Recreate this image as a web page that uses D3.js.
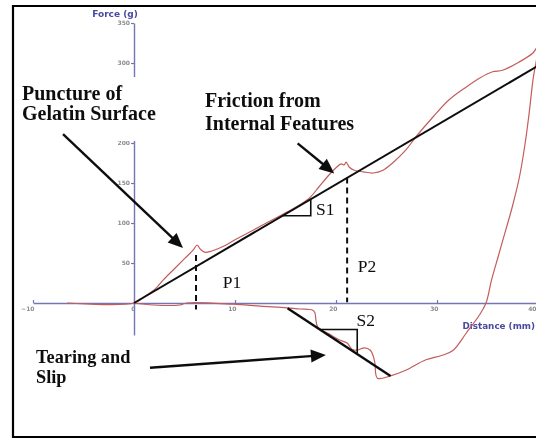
<!DOCTYPE html>
<html>
<head>
<meta charset="utf-8">
<script src="https://cdn.jsdelivr.net/npm/d3@7"></script>
<style>
  html, body { margin: 0; padding: 0; background: #fff; }
  svg { display: block; }
</style>
</head>
<body>
<svg id="chart" width="536" height="439"></svg>
<script>
// Needle insertion into gelatin: probe force (g) against distance (mm),
// loading stroke followed by the retraction stroke.
const distance = [-6.6, 0, 1.1, 2.1, 2.9, 4.1, 5.05, 5.85, 6.25, 6.55, 7.0, 7.7, 8.7, 10.0, 11.5, 13.1,
  14.75, 16.05, 17.35, 18.3, 19.3, 20.0, 20.5, 20.8, 21.0, 21.3, 21.8, 22.7, 23.7, 24.65, 25.6,
  26.9, 27.9, 29.6, 31.2, 32.9, 34.2, 35.5, 36.5, 38.1, 39.5, 40.0,
  39.5, 39.1, 38.7, 38.2, 37.5, 36.8, 36.1, 35.4, 34.85, 34.2, 32.9, 31.6, 30.6, 28.9, 26.9,
  25.4, 24.1, 23.85, 23.7, 23.4, 22.8, 22.1, 21.6, 21.1, 20.3, 19.5, 18.2, 17.9, 17.7, 16.4,
  15.1, 12.5, 9.8, 5.2, 4.55, 1.9, 0];
const force = [0, 0, 8.5, 17.5, 29, 44, 56, 66, 72.5, 67.5, 63.5, 65, 70, 79, 89, 100,
  111, 120, 131, 145, 160, 169, 174, 172.5, 176, 170, 166, 164, 162.5, 166, 175,
  191, 207.5, 232.5, 254, 270, 281, 289, 291, 301, 312.5, 321,
  279, 235, 197.5, 160, 122.5, 91, 60, 29, 0, -15, -37.5, -59, -65, -71, -84,
  -91, -94, -75, -67, -59, -56, -59, -58, -50, -46, -40, -30, -12, -9, -7.5,
  -6, -4, -1.5, 0, -2.5, -2.5, 0];

const xTicks = [-10, 0, 10, 20, 30, 40];
const yTicks = [50, 100, 150, 200, 300, 350];

// Fitted slope of the loading stroke (S1) and of the tearing stroke (S2)
const loadFitD = [0, 40.2];
const loadFitF = [0, 298];
const tearFitD = [15.2, 25.4];
const tearFitF = [-6.6, -91.3];

// Peak positions P1, P2 (distance, force span of the dashed marker)
const peakD = [6.14, 21.1];
const peakTop = [60, 157];
const peakBottom = [-8, 1];

// Slope triangles (distance span along each fitted line)
const s1Span = [14.7, 17.5];
const s2Span = [18.4, 22.1];

const W = 536, H = 439;
const svg = d3.select("#chart");

// slight softening of all ink
svg.append("defs").append("filter").attr("id", "soft")
  .append("feGaussianBlur").attr("stdDeviation", 0.3);
const root = svg.append("g").attr("filter", "url(#soft)");

const x = d3.scaleLinear().domain([-10, 39.8]).range([33, 536]);
const y = d3.scaleLinear().domain([-40, 350]).range([335, 23]);

const axisColor = "#7474b4";
const tickText = "#8c8c8c";

// outer frame
const frame = root.append("g").attr("stroke", "#000").attr("stroke-width", 2.2);
frame.append("line").attr("x1", 13).attr("x2", W).attr("y1", 6).attr("y2", 6);
frame.append("line").attr("x1", 13).attr("x2", 13).attr("y1", 5).attr("y2", 438);
frame.append("line").attr("x1", 12).attr("x2", W).attr("y1", 437).attr("y2", 437);

// x axis
const gx = root.append("g").attr("transform", `translate(0,${y(0)})`)
  .call(d3.axisBottom(x).tickValues(xTicks).tickSizeInner(-3).tickSizeOuter(0).tickPadding(4)
    .tickFormat(d3.format("d")));
gx.select(".domain").attr("stroke", axisColor).attr("stroke-width", 1.4);
gx.selectAll(".tick line").attr("stroke", axisColor).attr("stroke-width", 1.2);
gx.selectAll(".tick text").attr("fill", tickText).attr("font-family", "DejaVu Sans")
  .attr("font-weight", "bold").attr("font-size", 6).attr("text-anchor", "end")
  .attr("dx", d => d === 40 ? -2 : 1);

// y axis
const gy = root.append("g").attr("transform", `translate(${x(0)},0)`)
  .call(d3.axisLeft(y).tickValues(yTicks).tickSizeInner(3).tickSizeOuter(0).tickPadding(1)
    .tickFormat(d3.format("d")));
gy.select(".domain").attr("stroke", axisColor).attr("stroke-width", 1.4);
gy.selectAll(".tick line").attr("stroke", axisColor).attr("stroke-width", 1.2);
gy.selectAll(".tick text").attr("fill", tickText).attr("font-family", "DejaVu Sans")
  .attr("font-weight", "bold").attr("font-size", 6);

// axis titles
root.append("text").attr("x", x(0) - 19).attr("y", 17).attr("text-anchor", "middle")
  .attr("font-family", "DejaVu Sans").attr("font-weight", "bold").attr("font-size", 9)
  .attr("fill", "#4a4aa0").text("Force (g)");
root.append("text").attr("x", W - 1).attr("y", 329).attr("text-anchor", "end")
  .attr("font-family", "DejaVu Sans").attr("font-weight", "bold").attr("font-size", 8.8)
  .attr("fill", "#4a4aa0").text("Distance (mm)");

// force trace
const pts = distance.map((d, i) => [d, force[i]]);
root.append("path").datum(pts)
  .attr("fill", "none").attr("stroke", "#c45c5c").attr("stroke-width", 1.2)
  .attr("stroke-linejoin", "round")
  .attr("d", d3.line().x(d => x(d[0])).y(d => y(d[1])).curve(d3.curveCatmullRom.alpha(0.5)));

// fitted lines
const ink = root.append("g").attr("stroke", "#111").attr("fill", "none");
ink.append("line").attr("x1", x(loadFitD[0])).attr("y1", y(loadFitF[0]))
  .attr("x2", x(loadFitD[1])).attr("y2", y(loadFitF[1])).attr("stroke-width", 2);
ink.append("line").attr("x1", x(tearFitD[0])).attr("y1", y(tearFitF[0]))
  .attr("x2", x(tearFitD[1])).attr("y2", y(tearFitF[1])).attr("stroke-width", 2.4);

// slope triangles
const loadAt = d => loadFitF[0] + (d - loadFitD[0]) * (loadFitF[1] - loadFitF[0]) / (loadFitD[1] - loadFitD[0]);
const tearAt = d => tearFitF[0] + (d - tearFitD[0]) * (tearFitF[1] - tearFitF[0]) / (tearFitD[1] - tearFitD[0]);
ink.append("path").attr("stroke-width", 1.6)
  .attr("d", `M${x(s1Span[0])},${y(loadAt(s1Span[0]))}H${x(s1Span[1])}V${y(loadAt(s1Span[1]))}`);
ink.append("path").attr("stroke-width", 1.6)
  .attr("d", `M${x(s2Span[0])},${y(tearAt(s2Span[0]))}H${x(s2Span[1])}V${y(tearAt(s2Span[1]))}`);

// dashed peak markers
peakD.forEach((d, i) => {
  ink.append("line").attr("x1", x(d)).attr("x2", x(d))
    .attr("y1", y(peakTop[i])).attr("y2", y(peakBottom[i]))
    .attr("stroke-width", 2).attr("stroke-dasharray", "6,4");
});

// white patch behind the upper-left callout
root.append("rect").attr("x", 15).attr("y", 77).attr("width", 150).attr("height", 64).attr("fill", "#fff");

// callout arrows (distance, force of tail and tip)
const arrows = [
  { from: [-7.03, 211], to: [4.85, 68.75] },
  { from: [16.2, 199.6], to: [19.83, 162] },
  { from: [1.58, -81], to: [19.0, -65] }
];
arrows.forEach(a => {
  const x0 = x(a.from[0]), y0 = y(a.from[1]), x1 = x(a.to[0]), y1 = y(a.to[1]);
  const len = Math.hypot(x1 - x0, y1 - y0);
  const ux = (x1 - x0) / len, uy = (y1 - y0) / len;
  const hl = 15, hw = 6.5;
  root.append("line").attr("x1", x0).attr("y1", y0)
    .attr("x2", x1 - ux * hl * 0.8).attr("y2", y1 - uy * hl * 0.8)
    .attr("stroke", "#111").attr("stroke-width", 2.4);
  const bx = x1 - ux * hl, by = y1 - uy * hl;
  root.append("path").attr("fill", "#111")
    .attr("d", `M${x1},${y1}L${bx - uy * hw},${by + ux * hw}L${bx + uy * hw},${by - ux * hw}Z`);
});

// callout text
const bold = (txt, d, f, size) => root.append("text").attr("x", x(d)).attr("y", y(f))
  .attr("font-family", "Liberation Serif").attr("font-weight", "bold").attr("font-size", size)
  .attr("fill", "#111").text(txt);
bold("Puncture of", -11.09, 253.75, 20);
bold("Gelatin Surface", -11.09, 228.75, 20);
bold("Friction from", 7.03, 245, 20);
bold("Internal Features", 7.03, 216.25, 20);
bold("Tearing and", -9.7, -75, 18.3);
bold("Slip", -9.7, -100.6, 18.3);

const plain = (txt, d, f) => root.append("text").attr("x", x(d)).attr("y", y(f))
  .attr("font-family", "Liberation Serif").attr("font-size", 17.5).attr("fill", "#111").text(txt);
plain("P1", 8.78, 18.75);
plain("P2", 22.15, 39.1);
plain("S1", 18.02, 110);
plain("S2", 22.03, -28.75);
</script>
</body>
</html>
